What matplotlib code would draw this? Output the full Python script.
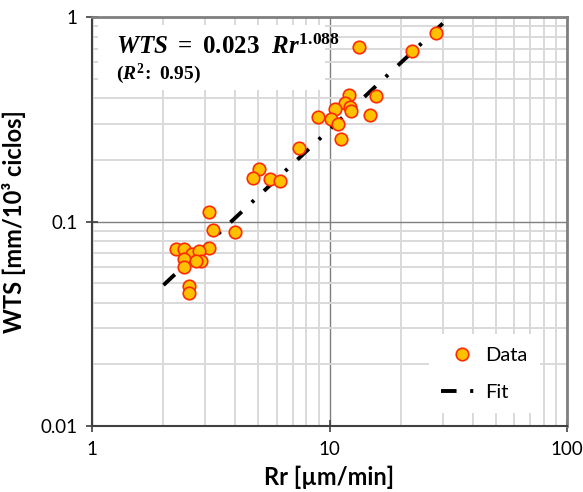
import matplotlib
matplotlib.use("Agg")
import matplotlib.pyplot as plt
import numpy as np
from matplotlib.patches import Rectangle
from matplotlib.ticker import LogLocator, NullFormatter

# measured points (Rr in um/min, WTS in mm/10^3 cycles)
rr = [28.1, 22.2, 13.3,
      12.1, 15.7, 11.6, 12.2, 12.3, 10.5, 8.97, 10.1, 10.9, 14.8, 11.2, 7.44,
      5.05, 4.75, 5.62, 6.17,
      3.12, 3.22, 4.0, 3.12, 2.25, 2.45, 2.64, 2.83, 2.45, 2.88, 2.75, 2.45, 2.55, 2.55]
wts = [0.835, 0.68, 0.716,
       0.415, 0.41, 0.381, 0.362, 0.348, 0.355, 0.325, 0.317, 0.299, 0.332, 0.252, 0.228,
       0.181, 0.164, 0.162, 0.157,
       0.1117, 0.0909, 0.0889, 0.074, 0.0731, 0.0731, 0.0694, 0.0715, 0.0654, 0.0641, 0.0641,
       0.0597, 0.0482, 0.0449]

# power-law fit WTS = a * Rr^b
fit_a = 0.023
fit_b = 1.088
fit_range = [2.0, 30.0]

plt.rcParams['font.family'] = ['Lato', 'DejaVu Sans']
plt.rcParams['mathtext.fontset'] = 'custom'
plt.rcParams['mathtext.rm'] = 'Liberation Serif:bold'
plt.rcParams['mathtext.it'] = 'Liberation Serif:bold:italic'
plt.rcParams['mathtext.bf'] = 'Liberation Serif:bold'

fig = plt.figure(figsize=(5.83, 4.92), dpi=100)
ax = fig.add_axes([0.1578, 0.1341, 0.8148, 0.8313])

ax.set_xscale('log')
ax.set_yscale('log')
ax.set_xlim(1, 100)
ax.set_ylim(0.01, 1)

ax.xaxis.set_minor_locator(LogLocator(base=10, subs=np.arange(2, 10)))
ax.yaxis.set_minor_locator(LogLocator(base=10, subs=np.arange(2, 10)))
ax.xaxis.set_minor_formatter(NullFormatter())
ax.yaxis.set_minor_formatter(NullFormatter())
ax.set_xticks([1, 10, 100])
ax.set_xticklabels(['1', '10', '100'])
ax.set_yticks([0.01, 0.1, 1])
ax.set_yticklabels(['0.01', '0.1', '1'])

ax.grid(which='minor', color='#d9d9d9', lw=1.4)
ax.grid(which='major', color='#7f7f7f', lw=1.0)
ax.set_axisbelow(True)
ax.tick_params(which='minor', length=0)
ax.tick_params(which='major', direction='inout', length=9, width=1.2,
               color='#404040', labelsize=13.5, pad=6)

for s in ['left', 'bottom']:
    ax.spines[s].set_color('#404040')
    ax.spines[s].set_linewidth(1.5)
for s in ['top', 'right']:
    ax.spines[s].set_color('#808080')
    ax.spines[s].set_linewidth(2)

xf = np.logspace(np.log10(fit_range[0]), np.log10(fit_range[1]), 100)
ax.plot(xf, fit_a * xf ** fit_b, color='black', lw=2.8,
        dashes=[4, 3.5, 0.8, 3.5], label='Fit', zorder=3)
ax.plot(rr, wts, 'o', ms=9, mfc='#ffc000', mec='#ff2a00', mew=1.2,
        label='Data', zorder=4, ls='none')

# white box for the equation
ax.add_patch(Rectangle((0.013, 0.822), 0.477, 0.158, transform=ax.transAxes,
                       facecolor='white', edgecolor='none', zorder=2))
ax.text(0.05, 0.93, r'$WTS\ =\ 0.023\ \ Rr^{1.088}$', transform=ax.transAxes,
        fontsize=18, va='center', ha='left', zorder=5)
ax.text(0.05, 0.862, r'$(R^{2}\!:\ 0.95)$', transform=ax.transAxes,
        fontsize=14, va='center', ha='left', zorder=5)

h, l = ax.get_legend_handles_labels()
leg = ax.legend(h[::-1], l[::-1], loc='lower right', bbox_to_anchor=(0.943, 0.032),
                borderaxespad=0, frameon=True, fancybox=False, fontsize=14.5,
                handlelength=2.1, handletextpad=0.1, labelspacing=1.0, borderpad=0.6)
leg.get_frame().set_edgecolor('none')
leg.get_frame().set_facecolor('white')
leg.get_frame().set_alpha(1)

ax.set_xlabel('Rr [µm/min]', fontsize=17, fontweight='bold', labelpad=6)
ax.set_ylabel('WTS [mm/10³ ciclos]', fontsize=17, fontweight='bold', labelpad=10)

fig.savefig('out.png', dpi=100)
